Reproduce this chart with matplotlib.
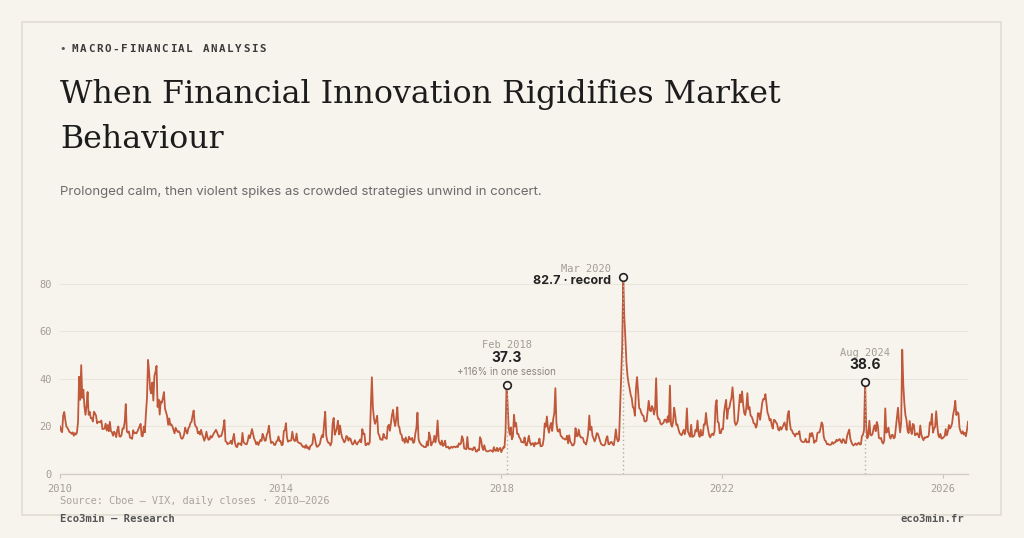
import matplotlib
matplotlib.use("Agg")
from matplotlib import pyplot as plt
from matplotlib.patches import Rectangle

# weekly VIX closes, one list per year
vix_2010 = [20.0, 18.2, 17.6, 24.6, 26.1, 22.7, 20.0, 19.4, 18.6, 17.6, 17.5, 16.9, 17.5, 16.1, 17.2, 16.6,
            17.5, 22.0, 40.9, 31.2, 45.8, 32.0, 35.5, 28.6, 24.9, 28.5, 34.5, 24.9, 26.2, 23.5, 23.5, 22.1,
            26.2, 25.5, 24.5, 21.3, 21.9, 22.0, 21.7, 22.5, 18.9, 19.0, 19.1, 21.2, 18.3, 20.6, 18.0, 22.0,
            18.0, 17.6, 16.1, 17.8]
vix_2011 = [17.1, 15.5, 18.5, 20.0, 15.9, 15.7, 16.4, 19.2, 19.1, 21.9, 29.4, 17.9, 17.4, 17.9, 15.3, 15.1,
            14.8, 18.4, 17.1, 17.4, 17.1, 17.9, 18.9, 20.0, 21.1, 16.0, 15.9, 20.0, 17.5, 25.3, 32.0, 48.0,
            43.1, 35.6, 33.9, 38.5, 30.9, 41.3, 42.9, 45.5, 28.2, 31.3, 25.0, 30.5, 30.0, 32.0, 34.5, 27.5,
            26.0, 24.3, 20.7, 23.4]
vix_2012 = [20.6, 20.9, 20.0, 18.5, 17.1, 19.4, 18.4, 17.7, 18.0, 17.3, 15.3, 14.8, 15.3, 16.7, 19.5, 18.0,
            17.0, 19.2, 19.9, 21.5, 22.0, 24.5, 26.7, 21.2, 20.0, 19.5, 17.1, 17.8, 16.6, 18.6, 16.7, 15.6,
            14.0, 15.2, 17.8, 15.6, 14.4, 14.6, 16.0, 15.3, 16.2, 17.1, 17.8, 18.6, 17.6, 16.4, 15.5, 16.0,
            16.0, 17.4, 19.5, 22.7]
vix_2013 = [13.8, 13.5, 12.5, 12.9, 13.0, 14.0, 12.6, 14.7, 16.9, 13.0, 11.6, 11.3, 13.0, 12.7, 12.8, 12.1,
            17.3, 13.5, 12.9, 12.6, 12.5, 13.9, 16.3, 15.1, 16.9, 18.9, 16.9, 14.9, 13.9, 12.5, 13.4, 12.2,
            13.4, 14.4, 13.9, 16.9, 15.6, 14.0, 14.1, 16.6, 17.7, 20.3, 15.7, 13.0, 13.5, 13.2, 12.2, 12.3,
            13.7, 14.0, 15.8, 13.8]
vix_2014 = [13.8, 12.1, 12.4, 18.1, 18.4, 21.4, 15.3, 13.6, 14.0, 14.0, 14.2, 17.8, 15.0, 13.9, 14.0, 17.0,
            13.5, 13.2, 12.9, 12.9, 12.0, 11.4, 11.7, 11.0, 12.2, 10.9, 11.3, 10.3, 11.8, 12.1, 12.7, 16.9,
            15.8, 13.2, 11.5, 11.5, 12.1, 12.7, 14.9, 16.3, 15.5, 21.2, 26.2, 16.1, 14.0, 13.1, 13.0, 12.0,
            13.3, 21.1, 23.6, 16.5]
vix_2015 = [17.8, 19.3, 22.4, 16.7, 20.4, 17.3, 15.3, 14.3, 13.3, 14.0, 16.0, 15.6, 14.0, 15.1, 14.7, 13.0,
            12.4, 13.0, 14.2, 13.0, 12.4, 13.3, 13.8, 14.5, 13.3, 18.9, 16.8, 17.0, 12.1, 12.3, 13.0, 12.4,
            13.4, 28.0, 40.7, 27.8, 23.2, 21.1, 22.6, 24.5, 17.1, 16.2, 14.5, 14.6, 14.3, 16.9, 15.5, 15.1,
            14.8, 20.0, 20.7, 18.2]
vix_2016 = [21.7, 24.9, 27.0, 22.3, 20.2, 23.4, 28.1, 20.5, 19.4, 16.9, 16.5, 14.0, 14.7, 13.1, 15.4, 13.6,
            13.2, 15.7, 14.7, 14.4, 15.2, 13.1, 13.5, 17.0, 19.4, 25.8, 14.8, 13.2, 12.7, 12.0, 11.9, 11.4,
            11.3, 11.3, 13.7, 11.9, 17.5, 15.4, 12.0, 13.3, 13.5, 16.1, 13.3, 16.2, 22.5, 14.2, 12.9, 12.3,
            14.1, 11.8, 12.2, 14.0]
vix_2017 = [11.3, 11.2, 11.5, 10.6, 11.0, 11.5, 11.0, 11.5, 11.5, 11.2, 11.7, 11.3, 12.9, 12.4, 12.9, 15.9,
            14.6, 10.8, 10.6, 10.4, 15.6, 10.8, 10.4, 10.7, 10.4, 10.0, 11.2, 11.2, 9.5, 9.4, 10.3, 10.0,
            15.5, 14.3, 11.3, 10.1, 12.1, 10.2, 9.6, 9.5, 9.6, 9.9, 9.9, 9.8, 9.3, 11.3, 9.9, 9.7,
            11.0, 9.6, 10.5, 11.0]
vix_2018 = [9.2, 10.2, 11.3, 11.1, 17.3, 37.3, 29.1, 19.5, 16.5, 19.6, 14.6, 15.8, 24.9, 20.0, 21.5, 16.9,
            16.9, 15.4, 14.8, 13.4, 13.4, 13.2, 15.4, 12.2, 12.0, 13.8, 16.1, 13.4, 12.2, 12.9, 12.9, 11.6,
            13.2, 12.6, 12.9, 12.9, 14.9, 11.7, 11.7, 12.1, 14.8, 21.3, 19.9, 24.2, 19.3, 17.4, 20.1, 21.5,
            18.1, 23.2, 25.6, 36.1]
vix_2019 = [21.4, 18.2, 17.8, 18.9, 16.1, 15.7, 15.0, 14.9, 14.5, 14.6, 16.1, 12.9, 16.3, 13.7, 13.0, 12.0,
            12.1, 13.0, 19.3, 16.0, 15.9, 18.7, 16.3, 15.3, 15.4, 15.1, 13.3, 13.0, 12.4, 14.5, 17.6, 24.6,
            18.5, 19.9, 16.1, 15.0, 13.7, 14.9, 17.2, 17.0, 15.6, 14.3, 12.7, 12.3, 12.1, 12.0, 12.6, 14.9,
            15.9, 12.6, 12.5, 13.4]
vix_2020 = [13.5, 12.6, 12.1, 14.6, 18.8, 15.0, 13.7, 14.4, 27.9, 40.1, 53.9, 82.7, 66.0, 57.1, 46.8, 41.2,
            38.2, 35.9, 33.3, 31.9, 28.2, 27.5, 24.5, 36.1, 40.8, 34.7, 27.7, 27.3, 25.7, 24.8, 24.5, 22.2,
            22.1, 22.5, 26.4, 30.8, 26.9, 26.4, 28.6, 27.6, 25.0, 27.4, 40.3, 24.9, 23.1, 23.1, 21.3, 20.8,
            21.2, 21.6, 22.9, 22.8]
vix_2021 = [21.6, 24.3, 21.9, 37.2, 20.9, 19.9, 22.1, 27.9, 24.7, 20.7, 20.9, 18.9, 17.3, 16.7, 16.3, 17.3,
            18.6, 16.7, 18.8, 27.6, 17.8, 16.8, 15.7, 20.7, 15.6, 15.8, 16.2, 18.5, 17.9, 22.5, 17.0, 15.6,
            18.6, 16.2, 16.4, 20.9, 20.8, 25.7, 21.2, 18.8, 16.3, 15.4, 16.5, 17.0, 16.3, 17.9, 28.6, 31.1,
            21.9, 21.6, 17.2, 17.2]
vix_2022 = [19.0, 18.8, 25.6, 28.9, 31.2, 23.2, 27.4, 27.8, 30.3, 31.9, 36.5, 30.8, 22.0, 20.6, 21.2, 22.5,
            28.2, 33.4, 30.2, 34.8, 29.4, 25.7, 24.8, 27.8, 34.0, 27.2, 28.2, 24.6, 24.2, 23.0, 21.3, 21.2,
            19.5, 20.6, 25.6, 25.5, 22.8, 26.3, 29.9, 31.6, 31.4, 33.6, 29.7, 25.8, 24.6, 22.5, 23.1, 20.5,
            19.1, 22.8, 22.6, 21.7]
vix_2023 = [21.1, 18.8, 18.3, 19.8, 18.7, 19.6, 20.7, 21.7, 20.0, 18.5, 24.8, 26.5, 21.7, 18.7, 18.4, 17.1,
            16.8, 15.8, 17.0, 17.0, 16.8, 18.0, 14.6, 13.8, 13.5, 13.4, 13.6, 14.8, 13.3, 13.6, 13.3, 17.1,
            15.8, 17.3, 15.7, 13.1, 13.8, 13.8, 17.2, 17.5, 17.5, 19.3, 21.7, 20.7, 15.7, 14.2, 13.8, 12.5,
            12.7, 12.3, 12.3, 12.4]
vix_2024 = [13.4, 12.7, 13.3, 13.3, 14.4, 13.9, 14.4, 14.7, 13.8, 13.1, 14.7, 14.4, 13.1, 13.0, 16.0, 17.3,
            18.7, 15.0, 13.5, 12.5, 12.0, 12.4, 12.9, 12.2, 12.7, 13.2, 12.4, 12.5, 15.9, 16.5, 18.5, 38.6,
            20.4, 15.0, 15.9, 22.4, 16.6, 16.2, 16.9, 19.2, 20.5, 18.0, 21.9, 20.3, 15.2, 14.9, 15.2, 13.5,
            12.8, 14.0, 27.6, 17.4]
vix_2025 = [17.9, 19.5, 16.1, 14.9, 16.4, 16.5, 15.0, 15.4, 19.6, 23.4, 27.9, 21.8, 17.5, 21.8, 52.3, 37.6,
            29.7, 24.8, 22.7, 18.4, 17.2, 22.3, 18.6, 16.8, 21.1, 20.6, 16.3, 16.6, 17.2, 16.4, 15.4, 20.4,
            16.6, 15.2, 14.2, 15.4, 15.2, 15.7, 15.5, 16.3, 21.7, 20.8, 25.3, 17.4, 19.1, 19.8, 26.4, 20.5,
            16.4, 15.4, 16.9, 14.9]
vix_2026 = [15.0, 15.5, 15.9, 18.9, 16.3, 17.8, 20.6, 19.1, 19.9, 21.3, 25.0, 27.2, 30.8, 24.8, 26.0, 25.5,
            19.4, 17.9, 17.0, 18.0, 16.6, 17.3, 15.9, 18.5, 22.0]

years = list(range(2010, 2027))
weekly = [vix_2010, vix_2011, vix_2012, vix_2013, vix_2014, vix_2015, vix_2016, vix_2017, vix_2018,
          vix_2019, vix_2020, vix_2021, vix_2022, vix_2023, vix_2024, vix_2025, vix_2026]

# highlighted sessions (year, week index in that year's list)
hl_years = [2018, 2020, 2024]
hl_weeks = [5, 11, 31]
hl_dates = ["Feb 2018", "Mar 2020", "Aug 2024"]

x_ticks = [2010, 2014, 2018, 2022, 2026]
y_ticks = [0, 20, 40, 60, 80]

BG = "#f7f4ee"
LINE = "#c0583a"
INK = "#1c1c1c"
MUTED = "#a39d93"

dates, vals = [], []
for yr, wk in zip(years, weekly):
    for i, v in enumerate(wk):
        dates.append(yr + i / 52)
        vals.append(v)

W, H = 1024, 538
def fx(px):
    return px / W
def fy(py):
    return 1 - py / H

fig = plt.figure(figsize=(W / 100, H / 100), dpi=100)
fig.patch.set_facecolor(BG)

# card border
fig.patches.append(Rectangle((fx(22), fy(515)), fx(1001) - fx(22), fy(22) - fy(515),
                             transform=fig.transFigure, fill=False, edgecolor="#e2ddd0", lw=1.2))

# header
fig.text(fx(59), fy(52), "\u2022", fontsize=8, color="#555", family="DejaVu Sans", va="baseline")
kicker = "MACRO-FINANCIAL ANALYSIS"
for i, ch in enumerate(kicker):
    fig.text(fx(72 + i * 8.15), fy(52.5), ch, fontsize=7.8, family="DejaVu Sans Mono",
             weight="bold", color="#3a3a3a", va="baseline")

fig.text(fx(60), fy(103), "When Financial Innovation Rigidifies Market", fontsize=22.8,
         family="DejaVu Serif", color=INK, va="baseline")
fig.text(fx(60), fy(148), "Behaviour", fontsize=22.8, family="DejaVu Serif", color=INK, va="baseline")
fig.text(fx(60), fy(195), "Prolonged calm, then violent spikes as crowded strategies unwind in concert.",
         fontsize=9.5, family=["Inter", "DejaVu Sans"], color="#6b6b6b", va="baseline")

# chart
ax = fig.add_axes([fx(60), fy(474), fx(968) - fx(60), fy(272) - fy(474)])
ax.set_facecolor(BG)
ax.plot(dates, vals, color=LINE, lw=1.3, zorder=3)
ax.set_xlim(2010, dates[-1])
ax.set_ylim(0, 85)

for s in ["top", "right", "left"]:
    ax.spines[s].set_visible(False)
ax.spines["bottom"].set_color("#d4cec1")
ax.spines["bottom"].set_linewidth(1)

ax.set_yticks(y_ticks)
ax.set_xticks(x_ticks)
ax.set_xticklabels([str(t) for t in x_ticks])
ax.grid(axis="y", color="#ebe6dc", lw=0.8, zorder=0)
ax.tick_params(axis="y", length=0, pad=6, labelsize=7.5, labelcolor=MUTED)
ax.tick_params(axis="x", length=3, width=0.8, color="#c8c2b6", pad=4, labelsize=7.5, labelcolor=MUTED)
for lab in ax.get_xticklabels() + ax.get_yticklabels():
    lab.set_family("DejaVu Sans Mono")

# highlights
for yr, wk, lab in zip(hl_years, hl_weeks, hl_dates):
    xd = yr + wk / 52
    yd = weekly[years.index(yr)][wk]
    ax.vlines(xd, 0, yd, colors="#b5aea2", linestyles=(0, (1, 2)), lw=1, zorder=4)
    ax.plot(xd, yd, "o", ms=5.5, mfc=BG, mec="#222", mew=1.2, clip_on=False, zorder=6)
    if lab == "Mar 2020":
        ax.annotate(lab, (xd, yd), xytext=(-8.6, 5.8), textcoords="offset points", ha="right",
                    va="center", fontsize=7.5, family="DejaVu Sans Mono", color=MUTED)
        ax.annotate(f"{yd:.1f} \u00b7 record", (xd, yd), xytext=(-8.6, -2.9), textcoords="offset points",
                    ha="right", va="center", fontsize=9, weight="bold",
                    family=["Inter", "DejaVu Sans"], color="#222")
    elif lab == "Feb 2018":
        ax.annotate(lab, (xd, yd), xytext=(0, 28.8), textcoords="offset points", ha="center",
                    va="center", fontsize=7.5, family="DejaVu Sans Mono", color=MUTED)
        ax.annotate(f"{yd:.1f}", (xd, yd), xytext=(0, 20), textcoords="offset points", ha="center",
                    va="center", fontsize=10, weight="bold", family=["Inter", "DejaVu Sans"], color="#222")
        ax.annotate("+116% in one session", (xd, yd), xytext=(0, 9.4), textcoords="offset points",
                    ha="center", va="center", fontsize=7, family=["Inter", "DejaVu Sans"], color="#8a857d")
    else:
        ax.annotate(lab, (xd, yd), xytext=(0, 20.9), textcoords="offset points", ha="center",
                    va="center", fontsize=7.5, family="DejaVu Sans Mono", color=MUTED)
        ax.annotate(f"{yd:.1f}", (xd, yd), xytext=(0, 12.2), textcoords="offset points", ha="center",
                    va="center", fontsize=10, weight="bold", family=["Inter", "DejaVu Sans"], color="#222")

# footer
fig.text(fx(60), fy(501), "Source: Cboe \u2014 VIX, daily closes \u00b7 2010\u20132026", fontsize=7.4,
         family="DejaVu Sans Mono", color="#aaa49a", va="center")
fig.text(fx(60), fy(519), "Eco3min \u2014 Research", fontsize=7.6, family="DejaVu Sans Mono",
         weight="bold", color="#555", va="center")
fig.text(fx(964), fy(519), "eco3min.fr", fontsize=7.6, family="DejaVu Sans Mono",
         weight="bold", color="#555", va="center", ha="right")

fig.savefig("out.png", dpi=100, facecolor=BG)
